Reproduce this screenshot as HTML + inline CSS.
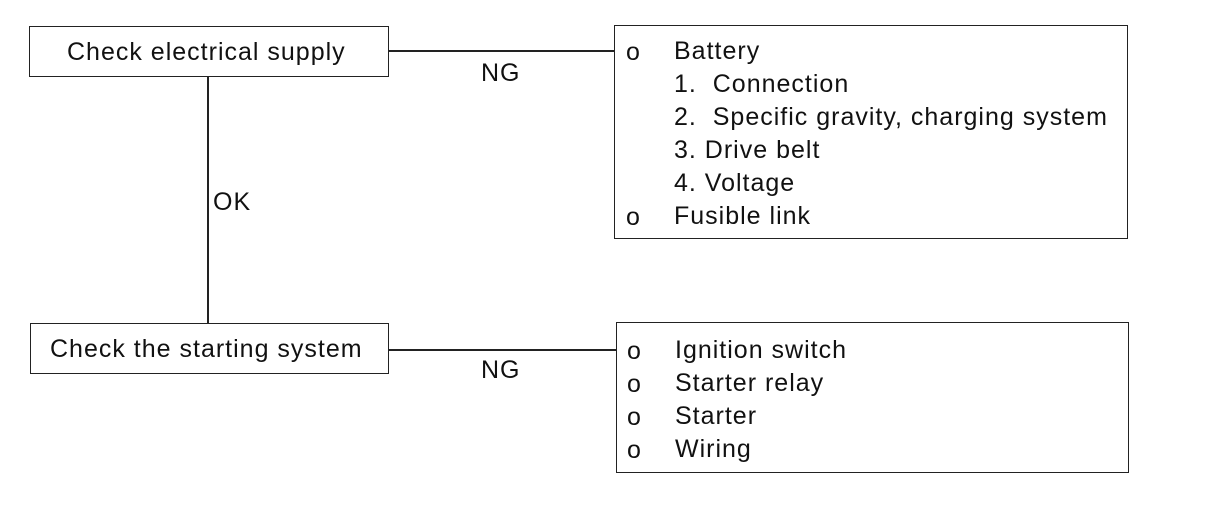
<!DOCTYPE html>
<html><head><meta charset="utf-8"><style>
body{margin:0;width:1216px;height:526px;background:#fff;position:relative;overflow:hidden;font-family:"Liberation Sans",Arial,sans-serif;color:#111}
.b{position:absolute;border:1.5px solid #222;box-sizing:border-box}
.t{position:absolute;font-size:25px;letter-spacing:1px;white-space:nowrap;line-height:1}
.h{position:absolute;height:1.5px;background:#222}
.v{position:absolute;width:1.5px;background:#222}
</style></head><body>
<div class="b" style="left:29px;top:26px;width:360px;height:51px"></div>
<div class="t" style="left:67px;top:40px">Check electrical supply</div>
<div class="b" style="left:30px;top:323px;width:359px;height:51px"></div>
<div class="t" style="left:50px;top:337px">Check the starting system</div>
<div class="v" style="left:207px;top:77px;height:246px"></div>
<div class="t" style="left:213px;top:190px">OK</div>
<div class="h" style="left:389px;top:50px;width:226px;height:2px"></div>
<div class="h" style="left:389px;top:349px;width:227px"></div>
<div class="t" style="left:481px;top:61px">NG</div>
<div class="t" style="left:481px;top:358px">NG</div>
<div class="b" style="left:614px;top:25px;width:514px;height:214px"></div>
<div class="b" style="left:616px;top:322px;width:513px;height:151px"></div>
<div class="t" style="left:626px;top:40px">o</div><div class="t" style="left:674px;top:39px">Battery</div>
<div class="t" style="left:674px;top:72px">1.&nbsp; Connection</div>
<div class="t" style="left:674px;top:105px">2.&nbsp; Specific gravity, charging system</div>
<div class="t" style="left:674px;top:138px">3. Drive belt</div>
<div class="t" style="left:674px;top:171px">4. Voltage</div>
<div class="t" style="left:626px;top:205px">o</div><div class="t" style="left:674px;top:204px">Fusible link</div>
<div class="t" style="left:627px;top:339px">o</div><div class="t" style="left:675px;top:338px">Ignition switch</div>
<div class="t" style="left:627px;top:372px">o</div><div class="t" style="left:675px;top:371px">Starter relay</div>
<div class="t" style="left:627px;top:405px">o</div><div class="t" style="left:675px;top:404px">Starter</div>
<div class="t" style="left:627px;top:438px">o</div><div class="t" style="left:675px;top:437px">Wiring</div>
</body></html>
